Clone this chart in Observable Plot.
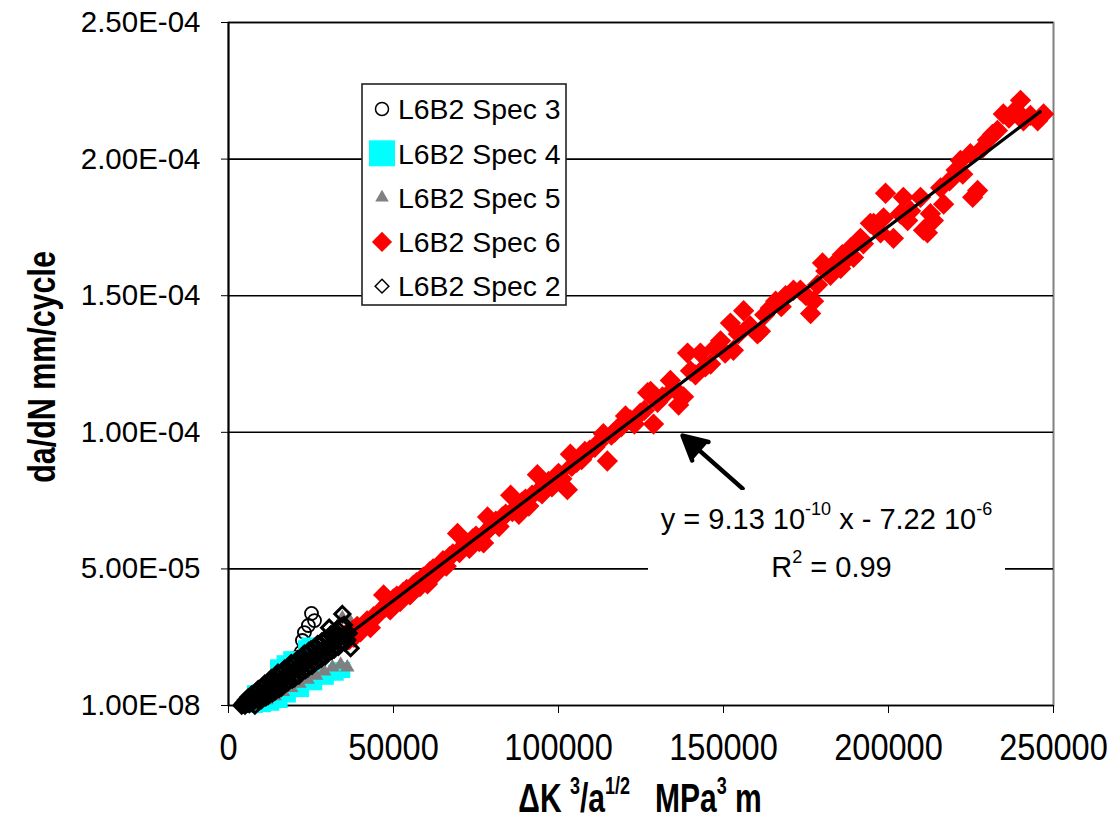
<!DOCTYPE html>
<html><head><meta charset="utf-8">
<script src="https://cdn.jsdelivr.net/npm/d3@7"></script>
<script src="https://cdn.jsdelivr.net/npm/@observablehq/plot@0.6"></script>
<style>
body{margin:0;background:#fff;}
#wrap{position:relative;width:1110px;height:825px;overflow:hidden;font-family:"Liberation Sans",Arial,sans-serif;color:#000;}
#ytitle{position:absolute;left:41px;top:367px;transform:translate(-50%,-50%) rotate(-90deg) scaleX(0.78);font-weight:bold;font-size:39px;white-space:nowrap;line-height:1;}
#xtitle{position:absolute;left:640px;top:778px;transform:translateX(-50%) scaleX(0.75);font-weight:bold;font-size:40px;white-space:nowrap;line-height:1;}
#xtitle sup{font-size:24px;vertical-align:top;position:relative;top:-4px;}
#eqbox{position:absolute;left:648px;top:490px;width:357px;height:100px;background:#fff;font-size:29px;text-align:center;line-height:1;}
#eqbox sup{font-size:18px;vertical-align:top;position:relative;top:-5px;}
#eq1{position:absolute;left:0;right:0;top:15px;}
#eq2{position:absolute;left:0;right:0;top:63px;padding-left:10px;}
#legend{position:absolute;left:361px;top:83px;}
</style></head><body><div id="wrap"></div>
<script>
// ---------- axis ticks ----------
const xTickValues = [0, 50000, 100000, 150000, 200000, 250000];
const yTickValues = [1e-8, 5e-5, 1e-4, 1.5e-4, 2e-4, 2.5e-4];
const yTickLabels = ["1.00E-08", "5.00E-05", "1.00E-04", "1.50E-04", "2.00E-04", "2.50E-04"];
const seriesNames = ["L6B2 Spec 3", "L6B2 Spec 4", "L6B2 Spec 5", "L6B2 Spec 6", "L6B2 Spec 2"];
// y values below are in units of 1e-5 mm/cycle
const yUnit = 1e-5;
// ---------- series values [ΔK^3/a^1/2, da/dN (×1e-5)] ----------
const spec3 = [[5000,0.1],[6000,0.1],[7000,0.3],[8000,0.3],[9000,0.5],[10000,0.45],[11000,0.75],[12000,0.6],[13000,0.95],[14000,0.8],[15000,1.15],[16000,0.95],[17000,1.35],[18000,1.15],[19000,1.55],[20000,1.3],[20500,1.75],[21000,1.5],[22000,1.95],[22000,1.6],[22400,2.38],[23000,2.67],[24000,1.85],[24200,2.93],[25000,2.0],[25150,3.37],[26060,3.11]];
const spec4 = [[8000,0.45],[9500,0.5],[15000,1.4],[17000,1.55],[19000,1.7],[23500,2.1],[24500,2.2],
  [8000,0.02],[10500,0.05],[13000,0.1],[15500,0.2],[18000,0.4],[22000,0.6],[26000,0.85],[29500,1.05],[32500,1.2],[34500,1.3]];
const spec5 = [[9000,0.1],[11500,0.2],[14000,0.35],[16500,0.5],[19000,0.65],[21500,0.8],[24000,0.95],[26500,1.1],[29000,1.25],[31500,1.4],[34000,1.5],[36000,1.4],[36500,3.15],[34500,3.2],[30000,2.0],[27000,1.8]];
const spec6 = [[35500,2.6],[36500,2.4],[37500,2.75],[38000,2.5],[39000,2.9],[40000,2.7],[41000,2.95],[42000,3.1],[43000,2.85],[44000,3.25],[45000,3.3],[46000,3.45],[47000,4.05],[47500,3.6],[48500,3.75],[49000,3.5],[50000,3.9],[51000,4.0],[52000,3.8],[53000,4.15],[54000,4.25],[55000,4.05],[56000,4.4],[57000,4.5],[58000,4.35],[59000,4.7],[60300,4.45],[61000,4.9],[62000,5.0],[63000,4.85],[64000,5.15],[65000,5.3],[66000,5.1],[67000,5.45],[68000,5.55],[69400,6.3],[70000,5.6],[71000,5.8],[72000,5.95],[73000,5.75],[74000,6.1],[75000,6.2],[76000,6.0],[77300,5.95],[78000,6.35],[78500,6.9],[80000,6.6],[81000,6.75],[82000,6.55],[83000,6.9],[84000,7.0],[85500,7.7],[86000,7.1],[87000,7.2],[88000,7.0],[89000,7.45],[90000,7.55],[91000,7.3],[92000,7.7],[93600,8.45],[94000,7.85],[95000,7.75],[96000,8.1],[97000,8.2],[98000,8.0],[99000,8.35],[100000,8.5],[101000,8.3],[102700,7.9],[103600,9.2],[104000,8.75],[105500,8.9],[107000,9.0],[108000,9.3],[109500,9.35],[111000,9.45],[112000,9.6],[113600,9.95],[114800,8.95],[116000,9.9],[117000,10.0],[118000,10.15],[119000,10.2],[120300,10.6],[121800,10.45],[123000,10.3],[124800,10.7],[126000,10.8],[127000,11.45],[127900,11.5],[128800,10.3],[130000,11.1],[131500,11.3],[133900,11.9],[135000,11.6],[136400,11.0],[137900,11.3],[139100,12.9],[140000,12.25],[141500,12.1],[143000,12.9],[144500,12.4],[146100,12.5],[147500,13.1],[149100,13.35],[150500,12.9],[152100,14.0],[153000,13.0],[154500,13.6],[156100,14.45],[158000,13.9],[160300,13.6],[161200,13.7],[162500,14.3],[164200,14.55],[165800,14.8],[167500,14.6],[168800,15.0],[171200,15.2],[173300,15.2],[175000,15.0],[176400,14.35],[177300,14.8],[178500,15.4],[180000,16.2],[181000,15.9],[182400,15.75],[183000,16.1],[185500,16.0],[186000,16.5],[187000,16.3],[188500,16.75],[189400,16.4],[191500,17.1],[192400,16.9],[194500,17.65],[195500,17.65],[197600,17.3],[198500,17.85],[199100,18.75],[201500,17.1],[203600,18.0],[204500,18.6],[205800,17.75],[206700,18.1],[209700,18.6],[210600,17.4],[211800,17.3],[212700,18.0],[213600,17.75],[215800,18.95],[216700,18.35],[218500,19.2],[220500,19.6],[221800,19.95],[222500,19.45],[224800,20.2],[225500,18.6],[227000,18.85],[228500,20.4],[230000,20.7],[231500,20.9],[233000,21.05],[234800,21.65],[236500,21.5],[238500,21.8],[240000,22.15],[240900,21.4],[243000,21.6],[245200,21.4],[247000,21.65]];
const spec2 = [[4000,0.0],[4300,0.05],[4700,0.1],[5000,0.0],[5300,0.2],[5700,0.08],[6000,0.3],[6300,0.05],[6700,0.15],[7000,0.4],[7300,0.1],[7700,0.25],[8000,0.0],[8300,0.5],[8700,0.3],[9000,0.6],[9300,0.15],[9700,0.4],[10000,0.2],[10300,0.7],[10700,0.45],[11000,0.8],[11300,0.3],[11700,0.55],[12000,0.35],[12300,0.9],[12700,0.6],[13000,1.0],[13300,0.45],[13700,0.75],[14000,0.5],[14300,1.1],[14700,0.8],[15000,1.2],[15300,0.6],[15700,0.9],[16000,0.65],[16300,1.25],[16700,1.0],[17000,1.35],[17300,0.8],[17700,1.1],[18000,0.85],[18300,1.45],[18700,1.15],[19000,1.55],[19300,0.95],[19700,1.25],[20000,1.0],[20300,1.6],[20700,1.35],[21000,1.7],[21300,1.1],[21700,1.4],[22000,1.2],[22300,1.8],[22700,1.5],[23000,1.9],[23300,1.3],[23700,1.6],[24000,1.35],[24300,2.0],[24700,1.7],[25000,2.05],[25300,1.45],[25700,1.8],[26000,1.55],[26300,2.15],[26700,1.85],[27000,2.25],[27300,1.65],[27700,1.95],[28000,1.7],[28300,2.35],[28700,2.05],[29000,2.4],[29300,1.8],[29700,2.1],[30000,1.9],[30300,2.5],[30500,2.85],[30700,2.2],[31000,2.6],[31300,2.0],[31700,2.3],[32000,2.05],[32300,2.7],[32700,2.4],[33000,2.8],[33300,2.15],[33700,2.5],[34000,2.25],[34300,2.9],[34500,3.35],[34700,2.55],[35000,2.95],[35300,2.3],[35700,2.6],[36000,2.4],[36400,2.65],[37000,2.1]];
// ---------- trendline (from the chart's equation) and annotation ----------
const fit = {slope: 9.13e-10, intercept: -7.22e-6, xStart: 36000, xEnd: 246000};
const arrowAnnot = [{x1: 155800, y1: 7.94e-5, x2: 137600, y2: 9.88e-5}];

const seriesStyle = [
  {data: spec3, symbol: "circle", r: 6.5, fill: "none", stroke: "#000", sw: 1.8},
  {data: spec4, symbol: "square", r: 9, fill: "#00FFFF", stroke: "none", sw: 0},
  {data: spec5, symbol: "triangle", r: 5.4, fill: "#808080", stroke: "none", sw: 0},
  {data: spec6, symbol: "diamond2", r: 9.6, fill: "#FF0000", stroke: "none", sw: 0},
  {data: spec2, symbol: "diamond2", r: 6.8, fill: "none", stroke: "#000", sw: 3}
];
const table = (pts, name) => pts.map(([x, y]) => ({x, y: y * yUnit, name}));
const fitLine = [fit.xStart, fit.xEnd].map(x => ({x, y: fit.slope * x + fit.intercept}));
const yLabelMap = new Map(yTickValues.map((v, i) => [v, yTickLabels[i]]));

const plot = Plot.plot({
  width: 1110, height: 825,
  marginLeft: 228, marginRight: 57, marginTop: 22, marginBottom: 120,
  style: {fontFamily: '"Liberation Sans",Arial,sans-serif', background: "#fff", color: "#000"},
  x: {domain: [0, 250000]},
  y: {domain: [1e-8, 2.5e-4]},
  marks: [
    Plot.frame({stroke: "#808080", strokeWidth: 2}),
    Plot.ruleY(yTickValues, {stroke: "#000", strokeWidth: 1.6}),
    Plot.ruleX([0], {stroke: "#000", strokeWidth: 2}),
    Plot.axisY({ticks: yTickValues, tickFormat: d => yLabelMap.get(d), tickSize: 7, tickPadding: 21, fontSize: 29.5, label: null, stroke: "#000"}),
    Plot.axisX({ticks: xTickValues, tickFormat: d3.format("d"), tickSize: 8, tickPadding: 20, fontSize: 37, label: null, stroke: "#000"}),
    ...seriesStyle.map((s, i) => Plot.dot(table(s.data, seriesNames[i]), {
      x: "x", y: "y", symbol: () => s.symbol, r: s.r, fill: s.fill, stroke: s.stroke, strokeWidth: s.sw
    })),
    Plot.line(fitLine, {x: "x", y: "y", stroke: "#000", strokeWidth: 3.2}),
    Plot.arrow(arrowAnnot, {x1: "x1", y1: "y1", x2: "x2", y2: "y2", stroke: "#000", strokeWidth: 4.5, headLength: 19, headAngle: 55, insetEnd: 0})
  ]
});
// filled arrow head like the original
d3.select(plot).selectAll('g[aria-label="arrow"] path').attr("fill", "#000").attr("stroke-linejoin", "miter");
// condensed x tick labels (the original uses a narrow face)
d3.select(plot).selectAll('g[aria-label="x-axis tick label"] text').attr("transform", function () {
  return (this.getAttribute("transform") || "") + " scale(0.88,1)";
});
const wrap = document.getElementById("wrap");
wrap.appendChild(plot);

// Equation box
const eq = document.createElement("div");
eq.id = "eqbox";
eq.innerHTML = '<div id="eq1">y = 9.13 10<sup>-10</sup> x - 7.22 10<sup>-6</sup></div><div id="eq2">R<sup>2</sup> = 0.99</div>';
wrap.appendChild(eq);

// Axis titles
const yt = document.createElement("div");
yt.id = "ytitle"; yt.textContent = "da/dN mm/cycle";
wrap.appendChild(yt);
const xt = document.createElement("div");
xt.id = "xtitle";
xt.innerHTML = "ΔK <sup>3</sup>/a<sup>1/2</sup>&nbsp;&nbsp; MPa<sup>3</sup> m";
wrap.appendChild(xt);

// Legend
const legendDiv = document.createElement("div");
legendDiv.id = "legend";
wrap.appendChild(legendDiv);
const lw = 206, lh = 223;
const lsvg = d3.select(legendDiv).append("svg").attr("width", lw).attr("height", lh);
lsvg.append("rect").attr("x", 1).attr("y", 1).attr("width", lw - 2).attr("height", lh - 2)
  .attr("fill", "#fff").attr("stroke", "#222").attr("stroke-width", 1.6);
const legendSymbols = [
  {sym: d3.symbolCircle, size: Math.PI * 6.5 * 6.5, fill: "none", stroke: "#000"},
  {sym: d3.symbolSquare, size: 26 * 26, fill: "#00FFFF", stroke: "none"},
  {sym: d3.symbolTriangle, size: 80, fill: "#808080", stroke: "none"},
  {sym: d3.symbolDiamond2, size: 260, fill: "#FF0000", stroke: "none"},
  {sym: d3.symbolDiamond2, size: 120, fill: "#fff", stroke: "#000"}
];
seriesNames.forEach((name, i) => {
  const cy = 26 + i * 44.3;
  const s = legendSymbols[i];
  lsvg.append("path").attr("d", d3.symbol(s.sym, s.size)()).attr("transform", `translate(21,${cy})`)
    .attr("fill", s.fill).attr("stroke", s.stroke).attr("stroke-width", 1.5);
  lsvg.append("text").attr("x", 37).attr("y", cy).attr("dy", "0.36em")
    .attr("font-size", 28.4).attr("font-family", '"Liberation Sans",Arial,sans-serif').text(name);
});
</script></body></html>
